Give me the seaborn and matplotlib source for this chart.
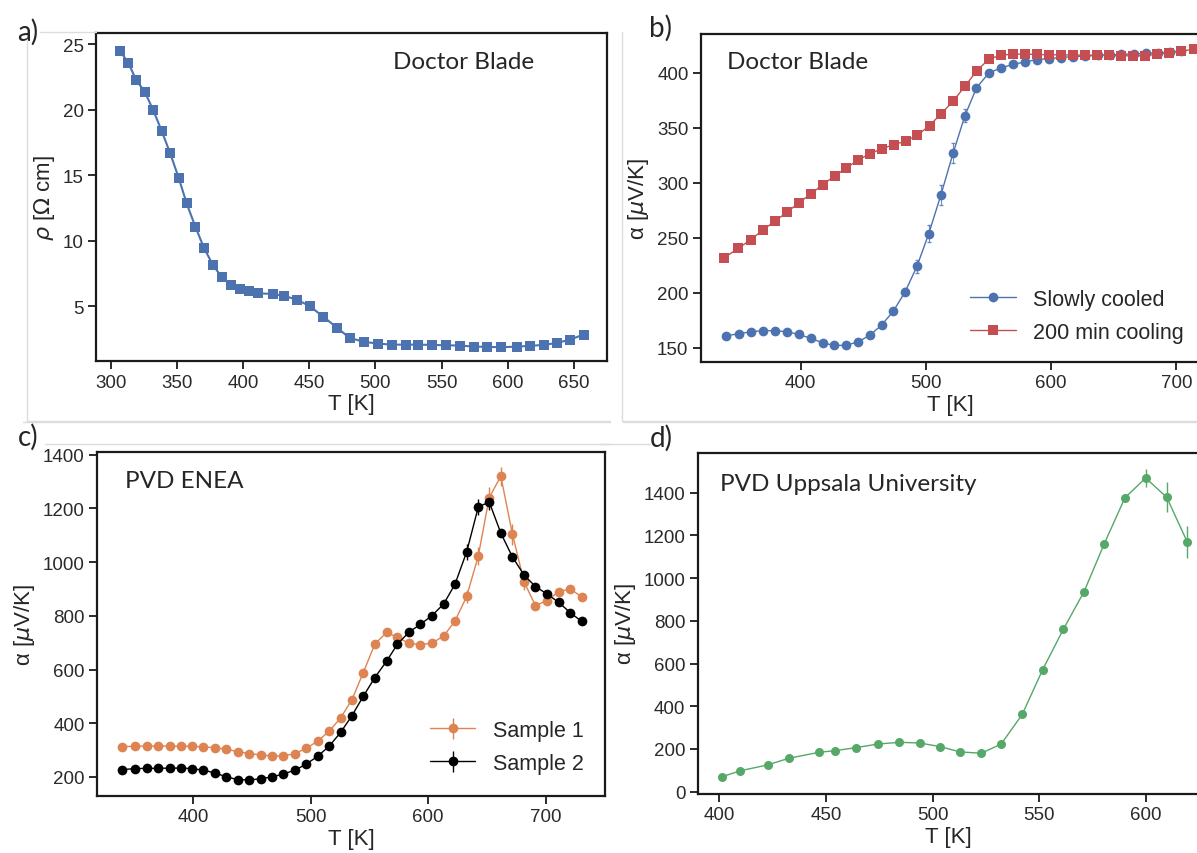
import matplotlib
matplotlib.use("Agg")
import matplotlib.pyplot as plt
from matplotlib.lines import Line2D
import seaborn as sns

# ---- panel a: resistivity, doctor blade ----
T_a = [307, 313.5, 319.4, 325.8, 332.3, 338.5, 344.9, 351.4, 357.5, 364, 370.5,
       377.2, 384, 390.7, 397.5, 404.2, 411.6, 422.4, 431.2, 440.6, 450.3, 460.6,
       471.2, 480.6, 491.7, 502, 512.3, 522.8, 532.5, 542.8, 553.1, 564, 574.5,
       584.5, 594.8, 606.8, 616.5, 627.1, 637.3, 647.3, 657.3]
rho_a = [24.5, 23.55, 22.25, 21.37, 19.94, 18.4, 16.7, 14.8, 12.83, 11.07, 9.45,
         8.15, 7.2, 6.6, 6.27, 6.12, 5.97, 5.92, 5.77, 5.49, 5.0, 4.19,
         3.33, 2.56, 2.26, 2.13, 2.05, 2.05, 2.05, 2.03, 2.0, 1.98, 1.9,
         1.88, 1.85, 1.9, 1.95, 2.03, 2.18, 2.44, 2.82]

# ---- panel b: Seebeck, doctor blade ----
T_slow = [340.6, 350.9, 360.6, 370.0, 379.4, 389.1, 398.4, 408.1, 417.5, 426.6,
          436.0, 445.7, 455.1, 464.7, 474.1, 483.5, 492.9, 502.3, 512.0, 521.7,
          531.1, 540.4, 550.1, 559.8, 569.5, 579.2, 588.6, 598.0, 607.7, 617.5,
          627.0, 637.0, 647.0, 656.0, 666.0, 676.0, 685.0, 695.0, 704.0]
S_slow = [160.9, 162.7, 164.5, 165.5, 165.5, 164.5, 162.1, 158.5, 154.5, 152.1,
          152.1, 155.2, 161.2, 170.6, 183.3, 200.9, 224.0, 253.6, 288.8, 326.7,
          360.6, 386.1, 399.4, 404.2, 407.3, 409.7, 411.8, 412.7, 413.6, 414.5,
          415.0, 415.5, 416.0, 416.5, 417.0, 417.5, 418.0, 418.5, 420.0]
err_slow = [2, 2, 2, 2, 2, 2, 2, 2, 2, 2, 2, 2, 2, 2, 2, 3, 6, 8, 9, 9,
            6, 3, 2, 2, 2, 2, 2, 2, 2, 2, 2, 2, 2, 2, 2, 2, 2, 2, 2]
T_fast = [338.7, 350.3, 360.3, 369.7, 379.4, 389.1, 398.4, 408.1, 417.5, 427.2,
          436.6, 446.0, 455.7, 465.1, 474.4, 483.8, 493.2, 502.9, 512.3, 521.7,
          531.4, 540.8, 550.5, 560.2, 569.9, 579.5, 588.9, 598.3, 608.0, 617.4,
          626.8, 636.5, 646.2, 655.6, 665.3, 674.9, 684.3, 694.3, 704.0, 713.7]
S_fast = [231.5, 240.3, 248.2, 256.7, 264.9, 273.0, 281.5, 289.7, 297.9, 306.1,
          313.3, 320.6, 326.4, 330.9, 334.5, 337.6, 343.0, 351.8, 362.7, 373.9,
          387.9, 401.8, 412.4, 415.8, 416.7, 416.7, 416.4, 416.1, 416.1, 415.8,
          415.8, 415.8, 415.5, 415.2, 415.2, 415.2, 416.7, 417.9, 419.4, 421.2]

# ---- panel c: PVD ENEA ----
T_c = [339.1, 350.0, 360.3, 370.2, 379.8, 389.7, 399.0, 408.6, 418.5, 428.1,
       438.1, 447.7, 457.3, 466.9, 476.8, 486.4, 496.0, 505.9, 515.6, 525.5,
       535.1, 544.7, 554.6, 564.6, 573.8, 583.8, 593.4, 603.3, 613.2, 622.8,
       632.8, 642.7, 652.0, 661.9, 671.8, 681.8, 691.4, 701.3, 711.2, 721.2, 730.8]
S_s1 = [313, 314, 315, 315, 315, 314, 314, 312, 309, 303, 294, 287, 282, 278,
        278, 287, 306, 333, 370, 420, 488, 588, 695, 738, 720, 697, 693, 698,
        725, 780, 872, 1023, 1240, 1320, 1103, 925, 838, 857, 890, 900, 870]
err_s1 = [8, 8, 8, 8, 8, 8, 8, 8, 8, 8, 8, 8, 8, 8, 8, 8, 8, 8, 8, 8, 10, 12,
          12, 10, 10, 8, 8, 8, 10, 12, 25, 35, 40, 35, 40, 30, 12, 10, 10, 10, 10]
S_s2 = [227, 231, 232, 232, 233, 233, 231, 225, 215, 200, 190, 189, 193, 200,
        211, 225, 247, 277, 314, 366, 428, 500, 570, 631, 694, 740, 768, 801,
        844, 917, 1038, 1205, 1224, 1108, 1019, 951, 909, 881, 850, 811, 779]
err_s2 = [8, 8, 8, 8, 8, 8, 8, 8, 8, 8, 8, 8, 8, 8, 8, 8, 8, 8, 8, 8, 10, 10,
          10, 10, 10, 10, 10, 10, 10, 12, 30, 30, 30, 15, 12, 10, 10, 10, 10, 10, 10]

# ---- panel d: PVD Uppsala ----
T_d = [401.3, 409.9, 422.6, 432.5, 446.6, 454.3, 464.0, 474.4, 484.5, 494.0,
       503.5, 513.0, 522.9, 532.2, 542.1, 551.7, 561.4, 571.1, 580.6, 590.3,
       600.0, 609.9, 619.5]
S_d = [70, 98, 125, 156, 184, 192, 206, 223, 231, 228, 211, 186, 180, 223,
       362, 572, 761, 937, 1162, 1377, 1469, 1378, 1169]
err_d = [8, 8, 8, 8, 8, 8, 8, 8, 8, 8, 8, 8, 8, 8, 10, 12, 20, 12, 12, 15,
         40, 70, 75]

sns.set_theme(style="ticks", palette="deep")
plt.rcParams["font.family"] = ["Liberation Sans", "DejaVu Sans"]
plt.rcParams["mathtext.fontset"] = "dejavusans"
pal = sns.color_palette("deep")
blue, orange, green, red = pal[0], pal[1], pal[2], pal[3]

W, H = 1197, 854
fig = plt.figure(figsize=(W / 100, H / 100), dpi=100)


def box(l, t, r, b):
    # pixel box -> figure fraction rect
    return [l / W, 1 - b / H, (r - l) / W, (b - t) / H]


def style(ax):
    for s in ax.spines.values():
        s.set_linewidth(1.6)
        s.set_color("#1a1a1a")
    ax.tick_params(direction="out", length=6, width=1.3, labelsize=13.5,
                   color="#1a1a1a", labelcolor="#2a2a2a", pad=3)
    ax.set_xlabel("T [K]", fontsize=16, labelpad=2)


# faint frames left over from the pasted screenshots
for (x0, y0, x1, y1) in [(27, 33, 27, 422), (27, 422, 610, 422), (40, 33, 96, 33),
                         (622, 33, 622, 422), (622, 422, 1197, 422),
                         (45, 445, 610, 445), (23, 423, 610, 423),
                         (600, 445, 650, 445), (623, 423, 1197, 423)]:
    fig.add_artist(Line2D([x0 / W, x1 / W], [1 - y0 / H, 1 - y1 / H],
                          color="#dcdcdc", lw=1))

lab_font = dict(family=["Lato", "DejaVu Sans"], fontsize=17.5)
tag_font = dict(family=["Lato", "DejaVu Sans"], fontsize=20)
leg_kw = dict(frameon=False, fontsize=15.5, handlelength=2.1, handletextpad=0.8,
              labelspacing=0.55, borderpad=0.4)
alpha_label = r"α [$\mu$V/K]"

# a)
ax = fig.add_axes(box(96, 34, 607, 362))
sns.lineplot(x=T_a, y=rho_a, ax=ax, color=blue, marker="s", markersize=7.5,
             markeredgewidth=0, linewidth=1.5)
ax.set_xlim(289, 675)
ax.set_ylim(0.8, 25.85)
ax.set_xticks(range(300, 651, 50))
ax.set_yticks([5, 10, 15, 20, 25])
ax.set_ylabel(r"$\rho$ [$\Omega$ cm]", fontsize=16, labelpad=4)
ax.text(0.581, 0.912, "Doctor Blade", transform=ax.transAxes, va="center", **lab_font)
style(ax)

# b)
ax = fig.add_axes(box(701, 35, 1199, 363))
ax.errorbar(T_slow, S_slow, yerr=err_slow, fmt="none", ecolor=blue, elinewidth=0.8,
            capsize=1.5, alpha=0.8)
sns.lineplot(x=T_slow, y=S_slow, ax=ax, color=blue, marker="o", markersize=7,
             markeredgewidth=0, linewidth=1, label="Slowly cooled")
sns.lineplot(x=T_fast, y=S_fast, ax=ax, color=red, marker="s", markersize=6.5,
             markeredgewidth=0, linewidth=1, label="200 min cooling")
ax.set_xlim(320.5, 718)
ax.set_ylim(137, 435)
ax.set_xticks([400, 500, 600, 700])
ax.set_yticks(range(150, 401, 50))
ax.set_ylabel(alpha_label, fontsize=16, labelpad=4)
ax.legend(loc="lower right", bbox_to_anchor=(1.008, 0.0), **leg_kw)
ax.text(0.052, 0.915, "Doctor Blade", transform=ax.transAxes, va="center", **lab_font)
style(ax)

# c)
ax = fig.add_axes(box(97, 453, 605, 797))
ax.errorbar(T_c, S_s1, yerr=err_s1, fmt="-o", color=orange, ms=7, mew=0, lw=1,
            elinewidth=1, label="Sample 1")
ax.errorbar(T_c, S_s2, yerr=err_s2, fmt="-o", color="black", ms=7, mew=0, lw=1,
            elinewidth=1, label="Sample 2")
ax.set_xlim(318, 750.6)
ax.set_ylim(129, 1410)
ax.set_xticks([400, 500, 600, 700])
ax.set_yticks(range(200, 1401, 200))
ax.set_ylabel(alpha_label, fontsize=16, labelpad=4)
ax.legend(loc="lower right", bbox_to_anchor=(0.996, 0.008), **leg_kw)
ax.text(0.055, 0.916, "PVD ENEA", transform=ax.transAxes, va="center", **lab_font)
style(ax)

# d)
ax = fig.add_axes(box(698, 454, 1199, 795))
ax.errorbar(T_d, S_d, yerr=err_d, fmt="-o", color=green, ms=6.5, mew=0, lw=1,
            elinewidth=1)
ax.set_xlim(390, 625)
ax.set_ylim(-11, 1586)
ax.set_xticks([400, 450, 500, 550, 600])
ax.set_yticks(range(0, 1401, 200))
ax.set_ylabel(alpha_label, fontsize=16, labelpad=4)
ax.text(0.044, 0.912, "PVD Uppsala University", transform=ax.transAxes, va="center",
        **lab_font)
style(ax)

# panel tags
fig.text(17 / W, 1 - 32 / H, "a)", va="center", **tag_font)
fig.text(649 / W, 1 - 28 / H, "b)", va="center", **tag_font)
fig.text(18 / W, 1 - 437 / H, "c)", va="center", **tag_font)
fig.text(650 / W, 1 - 438 / H, "d)", va="center", **tag_font)

fig.savefig("out.png", dpi=100)
